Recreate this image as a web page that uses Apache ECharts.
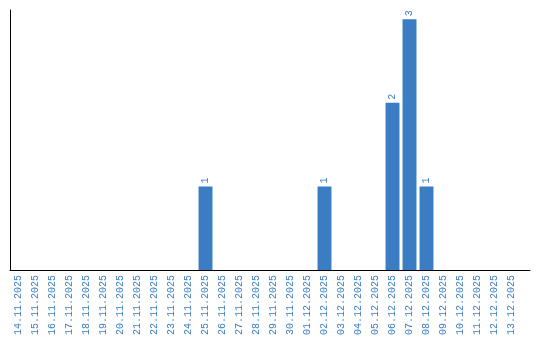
<!DOCTYPE html>
<html><head><meta charset="utf-8">
<script src="https://cdn.jsdelivr.net/npm/echarts@6/dist/echarts.min.js"></script>
<style>html,body{margin:0;padding:0;background:#fff}#c{width:540px;height:340px}</style>
</head><body><div id="c"></div>
<script>
const categories = ["14.11.2025","15.11.2025","16.11.2025","17.11.2025","18.11.2025","19.11.2025","20.11.2025","21.11.2025","22.11.2025","23.11.2025","24.11.2025","25.11.2025","26.11.2025","27.11.2025","28.11.2025","29.11.2025","30.11.2025","01.12.2025","02.12.2025","03.12.2025","04.12.2025","05.12.2025","06.12.2025","07.12.2025","08.12.2025","09.12.2025","10.12.2025","11.12.2025","12.12.2025","13.12.2025"];
const values = [0,0,0,0,0,0,0,0,0,0,0,1,0,0,0,0,0,0,1,0,0,0,2,3,1,0,0,0,0,0];

const chart = echarts.init(document.getElementById('c'), null, {renderer:'canvas'});
const font = '"Liberation Mono", "DejaVu Sans Mono", monospace';
chart.setOption({
  animation:false,
  grid:[
    {left:10, right:20, top:10, bottom:70, containLabel:false},
    {left:10, right:10, top:10, bottom:70, containLabel:false}
  ],
  xAxis:[
    {type:'category', gridIndex:0, data:categories, boundaryGap:true,
     axisLine:{show:false}, axisTick:{show:false},
     axisLabel:{rotate:90, interval:0, color:'#3a7dc4', fontFamily:font, fontSize:10, margin:5}},
    {type:'category', gridIndex:1, data:[], axisLine:{show:true, lineStyle:{color:'#000', width:1}},
     axisTick:{show:false}, axisLabel:{show:false}}
  ],
  yAxis:[
    {type:'value', gridIndex:0, min:0, max:3.11, axisLine:{show:true, lineStyle:{color:'#000', width:1}},
     axisTick:{show:false}, axisLabel:{show:false}, splitLine:{show:false}},
    {type:'value', gridIndex:1, min:0, max:3.11, show:false, splitLine:{show:false}}
  ],
  series:[{
    type:'bar', xAxisIndex:0, yAxisIndex:0, data:values.map(v => v === 0 ? null : v),
    barCategoryGap:'18%',
    itemStyle:{color:'#3b7dc3'},
    label:{show:true, position:'top', rotate:90, align:'left', verticalAlign:'middle',
      distance:3, color:'#3a7dc4', fontFamily:font, fontSize:10}
  }]
});
</script></body></html>
